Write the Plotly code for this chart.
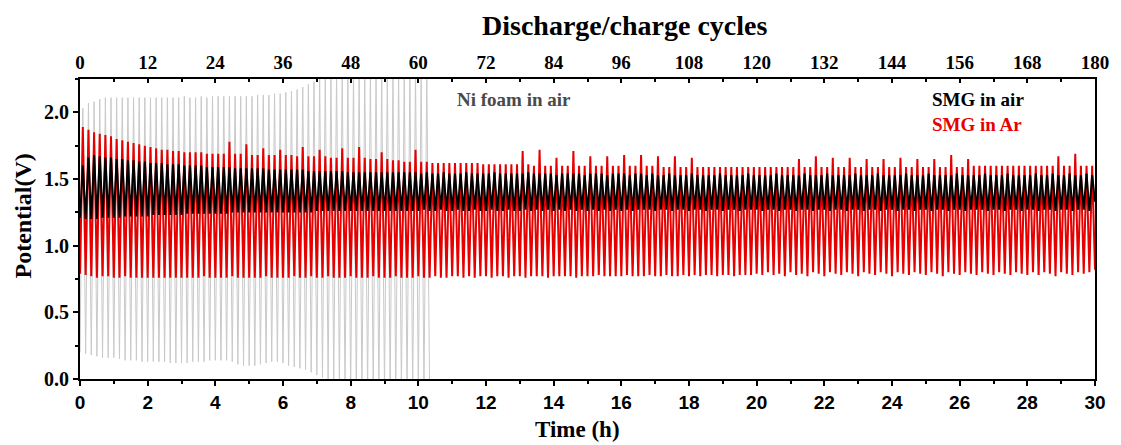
import plotly.graph_objects as go

# ---------------- data ----------------
CYCLE_HOURS = 1 / 6          # one discharge/charge cycle = 10 min
TOTAL_HOURS = 30
TOTAL_CYCLES = 180

# Ni foam in air (62 cycles): charge peak and discharge minimum per cycle
ni_peak = [
    2.03, 2.07, 2.08, 2.10, 2.11, 2.11, 2.11, 2.11, 2.11, 2.11,
    2.11, 2.11, 2.11, 2.11, 2.11, 2.11, 2.11, 2.11, 2.12, 2.11,
    2.11, 2.12, 2.11, 2.12, 2.12, 2.12, 2.12, 2.12, 2.12, 2.12,
    2.12, 2.13, 2.13, 2.13, 2.14, 2.14, 2.15, 2.16, 2.17, 2.19,
    2.21, 2.23, 2.26, 2.28, 2.30, 2.30, 2.30, 2.30, 2.30, 2.30,
    2.30, 2.30, 2.30, 2.30, 2.30, 2.30, 2.30, 2.30, 2.30, 2.30,
    2.30, 2.30,
]
ni_trough = [
    0.20, 0.19, 0.18, 0.17, 0.16, 0.16, 0.16, 0.15, 0.14, 0.14,
    0.14, 0.13, 0.13, 0.13, 0.13, 0.13, 0.12, 0.12, 0.12, 0.12,
    0.13, 0.13, 0.13, 0.14, 0.14, 0.14, 0.14, 0.13, 0.11, 0.10,
    0.10, 0.10, 0.11, 0.12, 0.13, 0.13, 0.12, 0.10, 0.09, 0.08,
    0.07, 0.05, 0.03, 0.01, 0.00, -0.02, -0.05, -0.08, -0.10, -0.10,
    -0.10, -0.10, -0.10, -0.10, -0.10, -0.10, -0.10, -0.10, -0.10, -0.10,
    -0.10, -0.10, -0.10,
]

# SMG in Ar (180 cycles)
ar_peak = [
    1.89, 1.87, 1.85, 1.84, 1.83, 1.82, 1.80, 1.79, 1.78, 1.77, 1.76, 1.75, 1.74, 1.73, 1.72, 1.72, 1.71, 1.71, 1.70, 1.70,
    1.70, 1.70, 1.69, 1.69, 1.69, 1.69, 1.78, 1.69, 1.69, 1.76, 1.68, 1.68, 1.73, 1.68, 1.68, 1.72, 1.68, 1.68, 1.67, 1.74,
    1.67, 1.67, 1.72, 1.67, 1.66, 1.66, 1.73, 1.66, 1.66, 1.74, 1.66, 1.65, 1.65, 1.70, 1.65, 1.64, 1.64, 1.63, 1.63, 1.72,
    1.63, 1.63, 1.62, 1.62, 1.62, 1.62, 1.62, 1.62, 1.62, 1.62, 1.62, 1.61, 1.61, 1.61, 1.61, 1.61, 1.61, 1.61, 1.71, 1.61,
    1.60, 1.72, 1.60, 1.60, 1.66, 1.60, 1.60, 1.71, 1.60, 1.60, 1.67, 1.60, 1.60, 1.67, 1.60, 1.60, 1.68, 1.60, 1.60, 1.68,
    1.60, 1.60, 1.67, 1.59, 1.59, 1.67, 1.59, 1.59, 1.66, 1.59, 1.59, 1.59, 1.59, 1.59, 1.59, 1.59, 1.59, 1.59, 1.59, 1.59,
    1.59, 1.59, 1.59, 1.59, 1.59, 1.59, 1.59, 1.65, 1.59, 1.59, 1.67, 1.59, 1.59, 1.66, 1.59, 1.59, 1.66, 1.59, 1.59, 1.65,
    1.59, 1.59, 1.65, 1.59, 1.59, 1.66, 1.59, 1.59, 1.65, 1.59, 1.59, 1.65, 1.59, 1.59, 1.68, 1.59, 1.59, 1.65, 1.60, 1.60,
    1.60, 1.60, 1.60, 1.60, 1.60, 1.60, 1.60, 1.60, 1.60, 1.60, 1.60, 1.60, 1.60, 1.67, 1.60, 1.60, 1.69, 1.60, 1.60, 1.60,
]
ar_trough = [
    0.79, 0.78, 0.77, 0.76, 0.77, 0.77, 0.76, 0.76, 0.77, 0.76, 0.76, 0.76, 0.76, 0.76, 0.76, 0.76, 0.76, 0.76, 0.76, 0.76,
    0.76, 0.76, 0.77, 0.76, 0.76, 0.76, 0.76, 0.77, 0.76, 0.76, 0.76, 0.76, 0.76, 0.77, 0.76, 0.76, 0.76, 0.76, 0.77, 0.76,
    0.76, 0.77, 0.76, 0.76, 0.77, 0.76, 0.76, 0.76, 0.77, 0.76, 0.76, 0.76, 0.77, 0.76, 0.76, 0.76, 0.77, 0.76, 0.76, 0.76,
    0.77, 0.76, 0.76, 0.77, 0.76, 0.76, 0.77, 0.77, 0.76, 0.77, 0.76, 0.77, 0.77, 0.76, 0.77, 0.77, 0.76, 0.77, 0.77, 0.76,
    0.77, 0.77, 0.77, 0.76, 0.77, 0.77, 0.77, 0.77, 0.76, 0.77, 0.77, 0.77, 0.78, 0.77, 0.77, 0.77, 0.77, 0.78, 0.77, 0.77,
    0.77, 0.78, 0.77, 0.77, 0.78, 0.77, 0.77, 0.78, 0.77, 0.78, 0.77, 0.78, 0.78, 0.77, 0.78, 0.78, 0.77, 0.78, 0.78, 0.78,
    0.79, 0.78, 0.80, 0.78, 0.79, 0.77, 0.80, 0.78, 0.79, 0.77, 0.80, 0.79, 0.77, 0.80, 0.79, 0.78, 0.80, 0.79, 0.77, 0.80,
    0.79, 0.78, 0.80, 0.79, 0.77, 0.80, 0.79, 0.78, 0.80, 0.79, 0.78, 0.80, 0.79, 0.77, 0.80, 0.79, 0.78, 0.80, 0.79, 0.78,
    0.80, 0.79, 0.78, 0.80, 0.79, 0.78, 0.80, 0.79, 0.78, 0.80, 0.78, 0.80, 0.79, 0.77, 0.80, 0.79, 0.78, 0.80, 0.79, 0.80,
    0.82,
]

# SMG in air (180 cycles)
air_peak = [
    1.60, 1.66, 1.68, 1.67, 1.66, 1.66, 1.65, 1.65, 1.64, 1.64, 1.63, 1.63, 1.62, 1.62, 1.62, 1.61, 1.61, 1.61, 1.60, 1.60,
    1.60, 1.60, 1.59, 1.59, 1.59, 1.59, 1.59, 1.58, 1.58, 1.58, 1.58, 1.58, 1.58, 1.57, 1.57, 1.57, 1.57, 1.57, 1.57, 1.57,
    1.56, 1.56, 1.56, 1.56, 1.56, 1.56, 1.56, 1.55, 1.55, 1.55, 1.55, 1.55, 1.55, 1.55, 1.55, 1.55, 1.55, 1.55, 1.55, 1.55,
    1.54, 1.55, 1.54, 1.54, 1.55, 1.54, 1.54, 1.54, 1.55, 1.54, 1.54, 1.54, 1.54, 1.55, 1.54, 1.54, 1.54, 1.54, 1.54, 1.55,
    1.54, 1.54, 1.54, 1.54, 1.53, 1.54, 1.54, 1.54, 1.54, 1.53, 1.54, 1.54, 1.54, 1.53, 1.54, 1.54, 1.54, 1.53, 1.54, 1.54,
    1.53, 1.54, 1.53, 1.53, 1.54, 1.53, 1.53, 1.53, 1.54, 1.53, 1.53, 1.53, 1.53, 1.54, 1.53, 1.53, 1.53, 1.53, 1.54, 1.53,
    1.53, 1.53, 1.53, 1.54, 1.53, 1.53, 1.53, 1.53, 1.54, 1.53, 1.53, 1.53, 1.54, 1.53, 1.53, 1.53, 1.53, 1.54, 1.53, 1.53,
    1.53, 1.54, 1.53, 1.53, 1.53, 1.53, 1.54, 1.53, 1.53, 1.53, 1.54, 1.53, 1.53, 1.53, 1.53, 1.54, 1.53, 1.53, 1.53, 1.53,
    1.54, 1.53, 1.53, 1.53, 1.54, 1.53, 1.53, 1.53, 1.53, 1.54, 1.53, 1.53, 1.54, 1.53, 1.53, 1.54, 1.53, 1.53, 1.54, 1.53,
]
air_trough = [
    1.21, 1.20, 1.20, 1.20, 1.21, 1.21, 1.21, 1.21, 1.22, 1.22, 1.22, 1.22, 1.22, 1.23, 1.23, 1.23, 1.23, 1.23, 1.23, 1.24,
    1.24, 1.24, 1.24, 1.24, 1.24, 1.24, 1.24, 1.25, 1.25, 1.25, 1.25, 1.25, 1.25, 1.25, 1.25, 1.25, 1.25, 1.25, 1.25, 1.25,
    1.25, 1.25, 1.26, 1.26, 1.26, 1.26, 1.26, 1.26, 1.26, 1.26, 1.26, 1.26, 1.26, 1.26, 1.26, 1.26, 1.26, 1.26, 1.26, 1.26,
    1.26, 1.27, 1.26, 1.26, 1.27, 1.26, 1.26, 1.27, 1.26, 1.26, 1.27, 1.26, 1.26, 1.27, 1.26, 1.26, 1.27, 1.26, 1.26, 1.27,
    1.26, 1.27, 1.26, 1.27, 1.26, 1.27, 1.26, 1.27, 1.26, 1.27, 1.26, 1.27, 1.26, 1.27, 1.26, 1.27, 1.26, 1.27, 1.26, 1.27,
    1.27, 1.27, 1.26, 1.27, 1.27, 1.26, 1.27, 1.27, 1.26, 1.27, 1.27, 1.26, 1.27, 1.27, 1.26, 1.27, 1.27, 1.26, 1.27, 1.27,
    1.27, 1.26, 1.27, 1.27, 1.26, 1.27, 1.27, 1.26, 1.27, 1.27, 1.26, 1.27, 1.27, 1.26, 1.27, 1.27, 1.26, 1.27, 1.27, 1.26,
    1.27, 1.27, 1.26, 1.27, 1.27, 1.26, 1.27, 1.27, 1.26, 1.27, 1.27, 1.26, 1.27, 1.27, 1.26, 1.27, 1.27, 1.26, 1.27, 1.27,
    1.27, 1.26, 1.27, 1.27, 1.26, 1.27, 1.27, 1.26, 1.27, 1.27, 1.26, 1.27, 1.27, 1.26, 1.27, 1.27, 1.26, 1.27, 1.27, 1.26,
    1.33,
]

series_names = ["Ni foam in air", "SMG in air", "SMG in Ar"]


# ---------------- build cycle waveforms ----------------
def waveform(peaks, troughs):
    xs, ys = [], []
    for i, p in enumerate(peaks):
        xs += [i * CYCLE_HOURS, (i + 0.5) * CYCLE_HOURS]
        ys += [troughs[i], p]
    xs.append(len(peaks) * CYCLE_HOURS)
    ys.append(troughs[len(peaks)])
    return xs, ys


SERIF = "Liberation Serif, Times New Roman, serif"
SANS = "Liberation Sans, Arial, sans-serif"
RED = "#e60000"

fig = go.Figure()

x_ni, y_ni = waveform(ni_peak, ni_trough)
fig.add_trace(go.Scatter(x=x_ni, y=y_ni, mode="lines", name=series_names[0],
                         line=dict(color="#c9c9c9", width=1), hoverinfo="skip"))

x_ar, y_ar = waveform(ar_peak, ar_trough)
fig.add_trace(go.Scatter(x=x_ar, y=y_ar, mode="lines", name=series_names[2],
                         line=dict(color=RED, width=2), hoverinfo="skip"))

x_air, y_air = waveform(air_peak, air_trough)
fig.add_trace(go.Scatter(x=x_air, y=y_air, mode="lines", name=series_names[1],
                         line=dict(color="#000000", width=2), hoverinfo="skip"))

# invisible trace to activate the top (cycle) axis
fig.add_trace(go.Scatter(x=[0, TOTAL_CYCLES], y=[0, 0], xaxis="x2", mode="lines",
                         line=dict(width=0), opacity=0, hoverinfo="skip", showlegend=False))

fig.update_layout(
    width=1121, height=445,
    margin=dict(l=80, r=19, t=79, b=66),
    plot_bgcolor="white", paper_bgcolor="white",
    showlegend=False,
    xaxis=dict(
        range=[0, TOTAL_HOURS], tick0=0, dtick=2,
        showline=True, linecolor="black", linewidth=2,
        ticks="outside", ticklen=5, tickwidth=2, tickcolor="black",
        minor=dict(dtick=1, ticks="outside", ticklen=3, tickwidth=1.5, tickcolor="black"),
        showgrid=False, zeroline=False,
        tickfont=dict(family=SANS, size=19, color="black", weight="bold"),
    ),
    xaxis2=dict(
        overlaying="x", side="top", anchor="y",
        range=[0, TOTAL_CYCLES], tick0=0, dtick=12,
        showline=True, linecolor="black", linewidth=2,
        ticks="inside", ticklen=4, tickwidth=2, tickcolor="black",
        minor=dict(dtick=6, ticks="inside", ticklen=3, tickwidth=1.5, tickcolor="black"),
        showgrid=False, zeroline=False,
        tickfont=dict(family=SERIF, size=19, color="black", weight="bold"),
    ),
    yaxis=dict(
        range=[0, 2.25], tick0=0, dtick=0.5, tickformat=".1f",
        showline=True, linecolor="black", linewidth=2, mirror=True,
        ticks="outside", ticklen=5, tickwidth=2, tickcolor="black",
        minor=dict(dtick=0.25, ticks="outside", ticklen=3, tickwidth=1.5, tickcolor="black"),
        showgrid=False, zeroline=False,
        tickfont=dict(family=SERIF, size=20, color="black", weight="bold"),
    ),
)

label_font = dict(family=SERIF, size=19, weight="bold")
common = dict(xref="paper", yref="paper", showarrow=False, yanchor="middle")
fig.add_annotation(text="Discharge/charge cycles", x=0.536, y=1.18, xanchor="center",
                   font=dict(family=SERIF, size=28, color="black", weight="bold"), **common)
fig.add_annotation(text="Time (h)", x=0.49, y=-0.167, xanchor="center",
                   font=dict(family=SERIF, size=23, color="black", weight="bold"), **common)
fig.add_annotation(text="Potential(V)", x=-0.0558, y=0.543, xanchor="center", textangle=-90,
                   font=dict(family=SERIF, size=24, color="black", weight="bold"), **common)
fig.add_annotation(text=series_names[0], x=0.369, y=0.93, xanchor="left",
                   font=dict(label_font, color="#4a4a4a"), **common)
fig.add_annotation(text=series_names[1], x=0.8376, y=0.933, xanchor="left",
                   font=dict(label_font, color="black"), **common)
fig.add_annotation(text=series_names[2], x=0.8376, y=0.847, xanchor="left",
                   font=dict(label_font, color=RED), **common)

fig.write_html("out.html")
